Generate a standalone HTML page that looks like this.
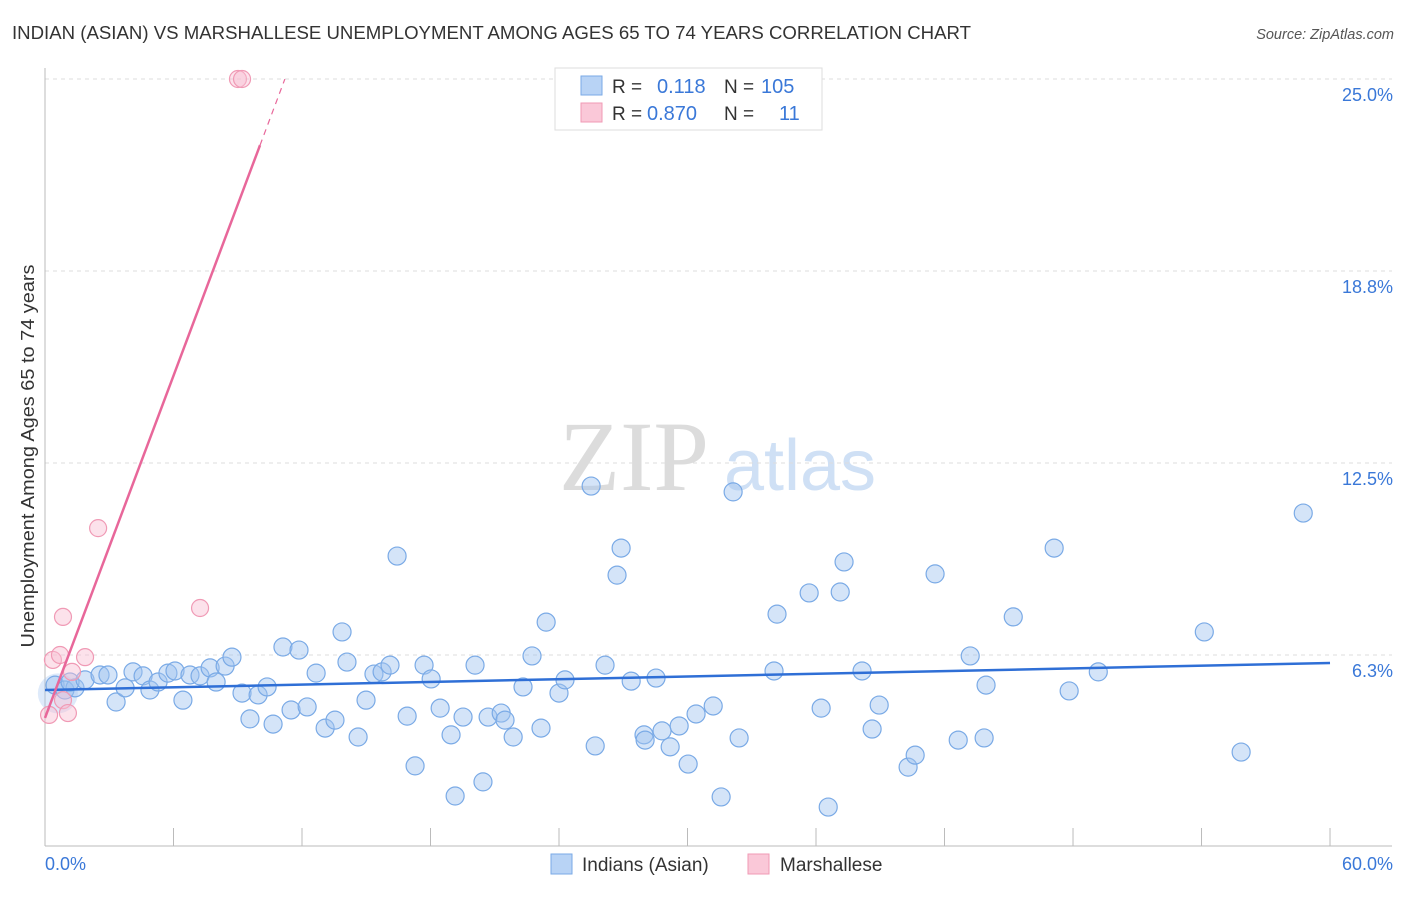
<!DOCTYPE html>
<html><head><meta charset="utf-8"><style>
body{margin:0;background:#fff;font-family:"Liberation Sans",sans-serif}
</style></head><body>
<svg id="c" width="1406" height="892" font-family="Liberation Sans, sans-serif">
<text x="12" y="39" font-size="18" fill="#333" textLength="959" lengthAdjust="spacingAndGlyphs">INDIAN (ASIAN) VS MARSHALLESE UNEMPLOYMENT AMONG AGES 65 TO 74 YEARS CORRELATION CHART</text>
<text x="1394" y="39" font-size="14.5" fill="#555" font-style="italic" text-anchor="end">Source: ZipAtlas.com</text>
<text x="634" y="490" font-size="100" fill="#dcdcdc" style="font-family:'Liberation Serif',serif" text-anchor="middle">ZIP</text>
<text x="800" y="490" font-size="72" fill="#cfe0f5" text-anchor="middle">atlas</text>
<text transform="translate(34,456) rotate(-90)" font-size="18" fill="#333" text-anchor="middle" textLength="383" lengthAdjust="spacingAndGlyphs">Unemployment Among Ages 65 to 74 years</text>
<g id="grid"></g><g id="marks"></g>
<g>
<rect x="555" y="68" width="267" height="62" fill="#fff" stroke="#ddd"/>
<rect x="581" y="76" width="21" height="19" fill="#b8d3f5" stroke="#7aaae6"/>
<rect x="581" y="103" width="21" height="19" fill="#fac8d8" stroke="#f09ab5"/>
<text x="612" y="93" font-size="19" fill="#333">R = </text><text x="657" y="93" font-size="20" fill="#3a78d8">0.118</text>
<text x="724" y="93" font-size="19" fill="#333">N = </text><text x="761" y="93" font-size="20" fill="#3a78d8">105</text>
<text x="612" y="120" font-size="19" fill="#333">R = </text><text x="647" y="120" font-size="20" fill="#3a78d8">0.870</text>
<text x="724" y="120" font-size="19" fill="#333">N = </text><text x="779" y="120" font-size="20" fill="#3a78d8">11</text>
</g>
<g>
<rect x="551" y="854" width="21" height="20" fill="#b8d3f5" stroke="#7aaae6"/>
<text x="582" y="871" font-size="19" fill="#333">Indians (Asian)</text>
<rect x="748" y="854" width="21" height="20" fill="#fac8d8" stroke="#f09ab5"/>
<text x="780" y="871" font-size="19" fill="#333">Marshallese</text>
</g>
</svg>
<script>
const yTicks=[6.3,12.5,18.8,25.0];
const yTickVals=[6.25,12.5,18.75,25];
const xLabels=["0.0%","60.0%"];
const blueX=[.47,.93,1.40,1.17,1.87,2.57,2.94,3.32,3.74,4.11,4.58,4.90,5.28,5.74,6.07,6.44,6.77,7.24,7.71,7.99,8.41,8.73,9.20,9.57,9.95,10.37,10.65,11.11,11.49,11.86,12.24,12.66,13.08,13.54,13.87,14.10,14.62,14.99,15.36,15.74,16.11,16.44,16.91,17.28,17.70,18.03,18.45,18.96,19.15,19.52,20.08,20.45,20.69,21.30,21.48,21.86,22.32,22.74,23.16,23.40,24.00,24.28,25.50,25.69,26.15,26.71,26.90,27.37,27.97,28.02,28.53,28.81,29.19,29.61,30.03,30.40,31.20,31.57,32.13,32.41,34.04,34.18,35.68,36.24,36.57,37.13,37.31,38.15,38.62,38.95,40.30,40.63,41.56,42.64,43.20,43.85,43.94,45.21,47.12,47.82,49.18,54.13,55.85,58.75];
const blueY=[5.27,5.11,5.18,5.37,5.44,5.60,5.60,4.72,5.18,5.70,5.57,5.11,5.37,5.66,5.73,4.78,5.60,5.57,5.83,5.37,5.89,6.18,5.01,4.17,4.95,5.21,4.00,6.51,4.46,6.41,4.56,5.66,3.87,4.13,7.00,6.02,3.58,4.78,5.63,5.70,5.92,9.47,4.26,2.64,5.92,5.47,4.52,3.65,1.66,4.23,5.92,2.12,4.23,4.36,4.13,3.58,5.21,6.22,3.87,7.32,5.01,5.44,11.75,3.29,5.92,8.85,9.73,5.40,3.65,3.48,5.50,3.78,3.26,3.94,2.70,4.33,4.59,1.63,11.56,3.55,5.73,7.58,8.27,4.52,1.30,8.30,9.28,5.73,3.84,4.62,2.60,2.99,8.89,3.48,6.22,3.55,5.27,7.49,9.73,5.08,5.70,7.00,3.09,10.87];
const pinkX=[.19,.37,.70,.84,1.07,1.26,1.87,.84,2.48,7.24,9.01,9.20];
const pinkY=[4.30,6.09,6.25,4.78,4.36,5.70,6.18,7.49,10.38,7.78,25.0,25.0];
const blueTrend=[5.11,5.99];
const pinkTrend=[4.20,1.857];
const NS="http://www.w3.org/2000/svg";
const X=v=>45+v*21.417, Y=v=>847-v*30.72;
function mk(p,t,a){const e=document.createElementNS(NS,t);for(const k in a)e.setAttribute(k,a[k]);p.appendChild(e);return e;}
const g=document.getElementById('grid'), m=document.getElementById('marks');
yTickVals.forEach((v,i)=>{
 const l=mk(g,'line',{x1:45,x2:1392,y1:Y(v),y2:Y(v),stroke:'#ddd','stroke-dasharray':'4,4'});
 
 
 const t=mk(g,'text',{x:1393,y:Y(v)+22,'font-size':18,fill:'#3a78d8','text-anchor':'end'});
 t.textContent=yTicks[i].toFixed(1)+'%';
 
 
});
mk(g,'line',{x1:45,x2:45,y1:68,y2:846,stroke:'#bbb'});
mk(g,'line',{x1:45,x2:1392,y1:846,y2:846,stroke:'#bbb'});
for(let i=1;i<=10;i++){mk(g,'line',{x1:X(i*6),x2:X(i*6),y1:828,y2:846,stroke:'#bbb'});}
xLabels.forEach((s,i)=>{const t=mk(g,'text',{x:i?1393:45,y:870,'font-size':18,fill:'#3a78d8','text-anchor':i?'end':'start'});t.textContent=s;
 
 });
mk(m,'circle',{cx:X(0.6),cy:Y(5.0),r:20,fill:'rgba(160,196,240,0.35)',stroke:'none'});
blueX.forEach((x,i)=>{const c=mk(m,'circle',{cx:X(x),cy:Y(blueY[i]),r:9,fill:'rgba(160,196,240,0.45)',stroke:'#7aaae6','stroke-width':1.2});
 
 });
pinkX.forEach((x,i)=>{const c=mk(m,'circle',{cx:X(x),cy:Y(pinkY[i]),r:8.5,fill:'rgba(248,190,210,0.45)',stroke:'#f09ab5','stroke-width':1.2});
 
 });
const bl=mk(m,'line',{x1:X(0),y1:Y(blueTrend[0]),x2:X(60),y2:Y(blueTrend[1]),stroke:'#2f6fd6','stroke-width':2.5});


const pl=mk(m,'line',{x1:X(0),y1:Y(pinkTrend[0]),x2:X(10.04),y2:Y(pinkTrend[0]+pinkTrend[1]*10.04),stroke:'#e8679a','stroke-width':2.5});


const pd=mk(m,'line',{x1:X(10.04),y1:Y(pinkTrend[0]+pinkTrend[1]*10.04),x2:X(11.2),y2:Y(pinkTrend[0]+pinkTrend[1]*11.2),stroke:'#e8679a','stroke-width':1.2,'stroke-dasharray':'6,5'});


</script>
</body></html>
